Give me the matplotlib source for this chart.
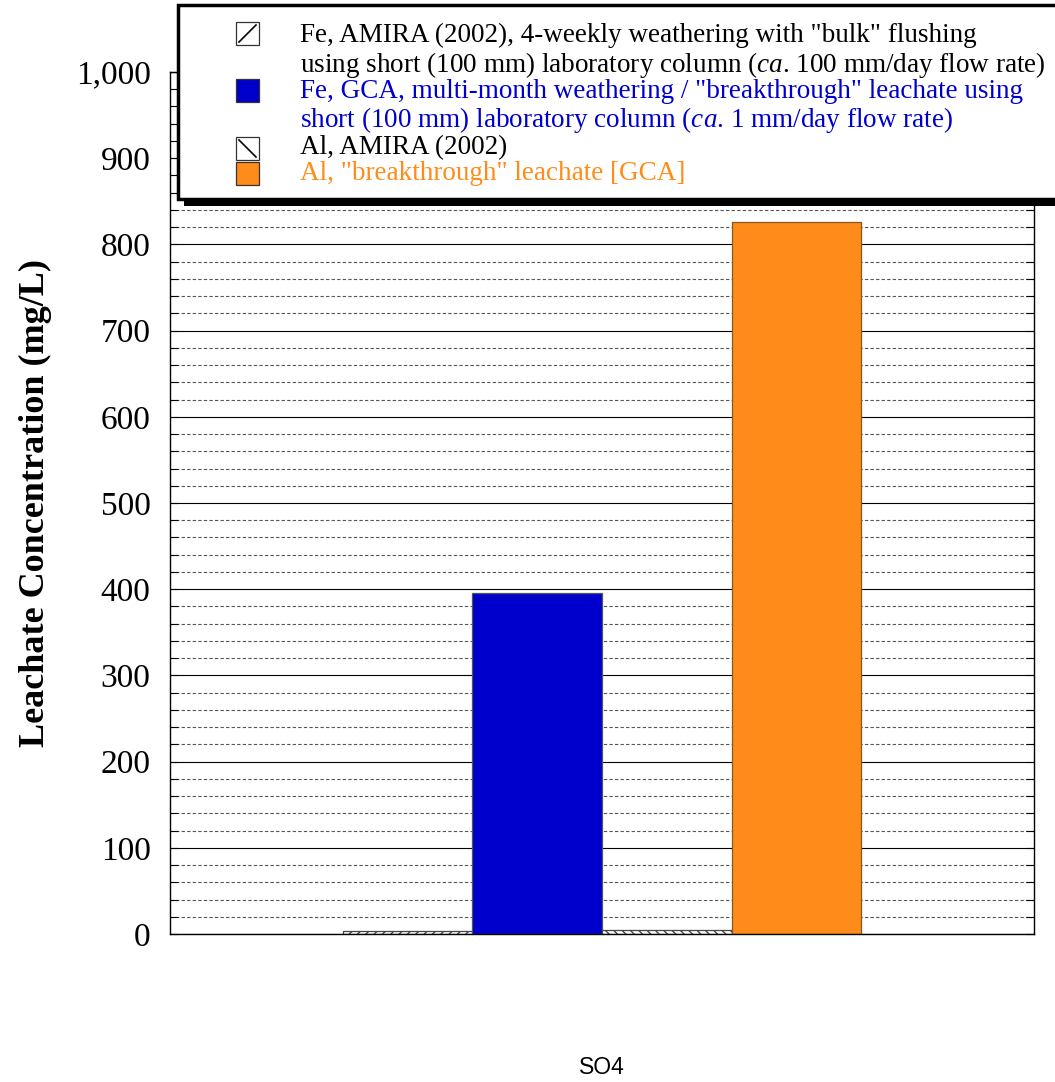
import numpy as np
import matplotlib.pyplot as plt
from matplotlib.patches import Rectangle
from matplotlib.lines import Line2D
from matplotlib.ticker import MultipleLocator, FuncFormatter

plt.rcParams['font.family'] = ['Liberation Serif', 'DejaVu Serif']
plt.rcParams['mathtext.fontset'] = 'custom'
plt.rcParams['mathtext.rm'] = 'Liberation Serif'
plt.rcParams['mathtext.it'] = 'Liberation Serif:italic'
plt.rcParams['hatch.linewidth'] = 1.0

# SO4 leachate concentrations (mg/L)
category = "SO4"
series = ["Fe, AMIRA (2002)", "Fe, GCA", "Al, AMIRA (2002)", "Al, GCA"]
values = [3, 396, 5, 826]
fills = ["white", "#0000CC", "white", "#FF8C1A"]
edges = ["#444444", "#555555", "#444444", "#8a5520"]
hatches = ["////", None, "\\\\\\\\", None]

legend_lines = [
    ['Fe, AMIRA (2002), 4-weekly weathering with "bulk" flushing',
     r'using short (100 mm) laboratory column ($\mathit{ca}$. 100 mm/day flow rate)'],
    ['Fe, GCA, multi-month weathering / "breakthrough" leachate using',
     r'short (100 mm) laboratory column ($\mathit{ca}$. 1 mm/day flow rate)'],
    ['Al, AMIRA (2002)'],
    ['Al, "breakthrough" leachate [GCA]'],
]
legend_colors = ["black", "#0000CC", "black", "#FF8C1A"]

W, H = 1055, 1082
fig = plt.figure(figsize=(W / 100, H / 100), dpi=100)
ax = fig.add_axes([170 / W, 1 - 934 / H, 864 / W, 862 / H])

width = 0.15
offsets = (np.arange(len(values)) - 1.5) * width
for off, v, fc, ec, h in zip(offsets, values, fills, edges, hatches):
    ax.bar(off, v, width=width, color=fc, edgecolor=ec, linewidth=0.9,
           hatch=h, zorder=3)

ax.set_xlim(-0.5, 0.5)
ax.set_ylim(0, 1000)
ax.set_xticks([])
ax.yaxis.set_major_locator(MultipleLocator(100))
ax.yaxis.set_minor_locator(MultipleLocator(20))
ax.yaxis.set_major_formatter(FuncFormatter(lambda v, p: f"{int(v):,}"))
ax.tick_params(axis='y', which='both', direction='in', length=6, width=0.8,
               left=True, right=True, labelsize=24, pad=14)
ax.grid(which='major', axis='y', color='black', linewidth=0.8, zorder=1)
ax.grid(which='minor', axis='y', color='#555555', linestyle=(0, (3, 2)),
        linewidth=0.8, zorder=1)
for s in ax.spines.values():
    s.set_linewidth(1.0)
    s.set_zorder(4)

fig.text(35 / W, 1 - 503 / H, "Leachate Concentration (mg/L)", rotation=90,
         fontsize=26, fontweight='bold', ha='center', va='center')
fig.text(602 / W, 1 - 1068 / H, category, fontsize=16.5, family='Liberation Sans',
         ha='center', va='center')


def px(x, y):
    return x / W, 1 - y / H


# legend box with drop shadow
bx0, by0, bx1, by1 = 178, 5, 1075, 199
fig.add_artist(Rectangle(px(bx0 + 6, by1 + 7), (bx1 - bx0) / W, (by1 - by0) / H,
                         transform=fig.transFigure, facecolor='black',
                         edgecolor='none', zorder=5))
fig.add_artist(Rectangle(px(bx0, by1), (bx1 - bx0) / W, (by1 - by0) / H,
                         transform=fig.transFigure, facecolor='white',
                         edgecolor='black', linewidth=2.5, zorder=6))

icon_tops = [22, 79, 137, 162]
line_ys = [[35, 65], [91, 120], [148], [174]]
s = 23
for i in range(len(series)):
    ix, iy = 236, icon_tops[i]
    fig.add_artist(Rectangle(px(ix, iy + s), s / W, s / H,
                             transform=fig.transFigure, facecolor=fills[i],
                             edgecolor='#333333', linewidth=0.9, zorder=7))
    if i == 0:
        x0, y0 = px(ix + 3, iy + s - 3)
        x1, y1 = px(ix + s - 3, iy + 3)
        fig.add_artist(Line2D([x0, x1], [y0, y1], transform=fig.transFigure,
                              color='black', linewidth=1.2, zorder=8))
    elif i == 2:
        x0, y0 = px(ix + 3, iy + 3)
        x1, y1 = px(ix + s - 3, iy + s - 3)
        fig.add_artist(Line2D([x0, x1], [y0, y1], transform=fig.transFigure,
                              color='black', linewidth=1.2, zorder=8))
    for txt, y in zip(legend_lines[i], line_ys[i]):
        fig.text(*px(300, y), txt, fontsize=19.5, color=legend_colors[i],
                 ha='left', va='center', zorder=8)

fig.savefig("out.png", dpi=100)
